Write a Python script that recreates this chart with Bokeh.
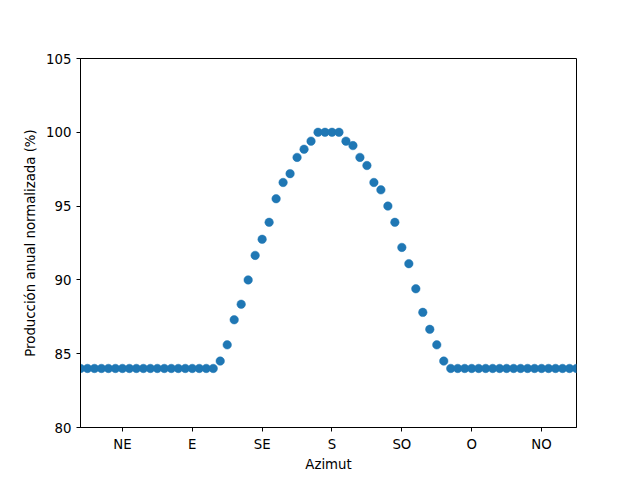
import numpy as np
from bokeh.plotting import figure
from bokeh.models import Range1d, FixedTicker, ColumnDataSource
from bokeh.embed import file_html
from bokeh.resources import INLINE

# Azimuth positions (degrees), one point every 4.5 degrees
azimut = [18 + 4.5 * i for i in range(72)]

# Normalized annual production (%)
produccion = (
    [84.0] * 20
    + [84.5, 85.6, 87.3, 88.35, 90.0, 91.66, 92.75, 93.9, 95.5, 96.6, 97.2,
       98.3, 98.85, 99.4, 100.0, 100.0, 100.0, 100.0, 99.4, 99.1, 98.3, 97.75,
       96.6, 96.1, 95.0, 93.9, 92.2, 91.1, 89.4, 87.8, 86.65, 85.6, 84.5]
    + [84.0] * 19
)

tick_pos = [45, 90, 135, 180, 225, 270, 315]
tick_labels = ["NE", "E", "SE", "S", "SO", "O", "NO"]
y_ticks = [80, 85, 90, 95, 100, 105]

src = ColumnDataSource(dict(x=azimut, y=produccion))

p = figure(
    frame_width=496, frame_height=369,
    output_backend="svg", toolbar_location=None,
    x_range=Range1d(18, 337.5), y_range=Range1d(80, 105),
    min_border_left=80, min_border_top=58, min_border_right=48, min_border_bottom=40,
)
p.background_fill_color = "white"
p.border_fill_color = "white"
p.outline_line_color = "black"
p.outline_line_width = 1
p.outline_line_alpha = 1
p.grid.visible = False

p.scatter("x", "y", source=src, size=8.5, fill_color="#1f77b4",
          line_color="#1f77b4", line_width=0.5)

font = "DejaVu Sans"
for ax in (p.xaxis[0], p.yaxis[0]):
    ax.major_tick_in = 0
    ax.major_tick_out = 4
    ax.minor_tick_line_color = None
    ax.major_tick_line_color = "black"
    ax.axis_line_color = "black"
    ax.major_label_text_font = font
    ax.major_label_text_font_size = "13.3px"
    ax.major_label_text_color = "black"
    ax.axis_label_text_font = font
    ax.axis_label_text_font_size = "13.3px"
    ax.axis_label_text_font_style = "normal"
    ax.axis_label_text_color = "black"
    ax.major_label_standoff = 5
    ax.axis_label_standoff = 5

p.xaxis.axis_label_standoff = 2
p.xaxis.ticker = FixedTicker(ticks=tick_pos)
p.xaxis.major_label_overrides = {t: l for t, l in zip(tick_pos, tick_labels)}
p.xaxis.axis_label = "Azimut"
p.yaxis.ticker = FixedTicker(ticks=y_ticks)
p.yaxis.axis_label = "Producción anual normalizada (%)"

open("out.html", "w").write(file_html(p, INLINE))
